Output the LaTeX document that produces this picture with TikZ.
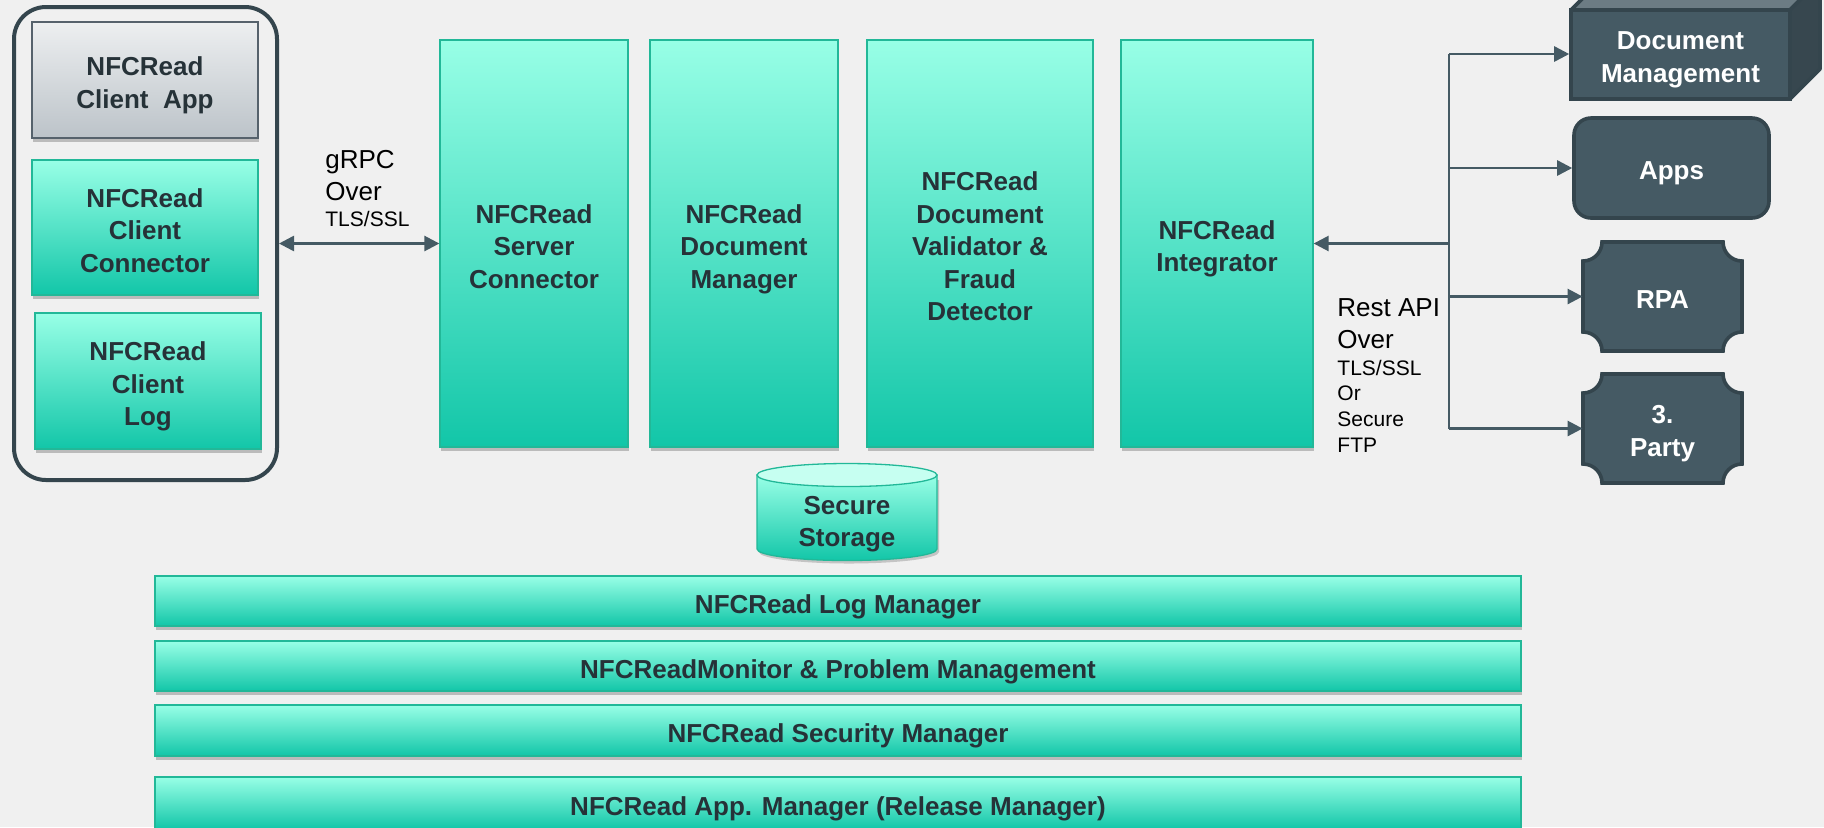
\documentclass[tikz,border=0pt]{standalone}
\usepackage{fontspec}
\setmainfont{Liberation Sans}
\usetikzlibrary{arrows.meta,shadows,calc}
\definecolor{bg}{HTML}{F0F0F0}
\definecolor{tealtop}{HTML}{98FFE6}
\definecolor{tealbot}{HTML}{12C6A8}
\definecolor{tealedge}{HTML}{22B898}
\definecolor{graytop}{HTML}{EDEFF0}
\definecolor{graybot}{HTML}{BCC3C9}
\definecolor{grayedge}{HTML}{56626C}
\definecolor{darkfill}{HTML}{455A64}
\definecolor{darkedge}{HTML}{34454D}
\definecolor{cubetop}{HTML}{6C7C84}
\definecolor{cubeside}{HTML}{37474F}
\definecolor{txt}{HTML}{263238}
\definecolor{linec}{HTML}{455A64}
\definecolor{storetop}{HTML}{C6FFF1}
\newcommand\boxfont{\bfseries\fontsize{13}{16.25}\selectfont}
\newcommand\plaquepath[4]{%
  ({#1+19},#2) -- ({#3-19},#2) .. controls ({#3-19},{#2+10.5}) and ({#3-10.5},{#2+19}) .. (#3,{#2+19})
  -- (#3,{#4-19}) .. controls ({#3-10.5},{#4-19}) and ({#3-19},{#4-10.5}) .. ({#3-19},#4)
  -- ({#1+19},#4) .. controls ({#1+19},{#4-10.5}) and ({#1+10.5},{#4-19}) .. (#1,{#4-19})
  -- (#1,{#2+19}) .. controls ({#1+10.5},{#2+19}) and ({#1+19},{#2+10.5}) .. cycle}
\tikzset{
  atbox/.style n args={4}{inner sep=0pt, minimum width={(#3-#1)*0.5pt}, minimum height={(#4-#2)*0.5pt},
    at={({(#1+#3)/2},{(#2+#4)/2})}},
  tealbox/.style={draw=tealedge, line width=0.65pt, top color=tealtop, bottom color=tealbot,
    drop shadow={shadow xshift=0.6pt, shadow yshift=-1.8pt, opacity=0.22, fill=black}},
  graybox/.style={draw=grayedge, line width=0.8pt, top color=graytop, bottom color=graybot,
    drop shadow={shadow xshift=0.6pt, shadow yshift=-1.8pt, opacity=0.22, fill=black}},
  darkshape/.style={fill=darkfill, draw=darkedge, line width=1.8pt},
  boxtxt/.style={inner sep=0pt, font=\boxfont, text=txt, align=center, text depth=0pt, yshift=-1.3pt},
  whitetxt/.style={boxtxt, text=white},
  conn/.style={draw=linec, line width=1.3pt},
  arr/.style={conn, -{Triangle[length=7.5pt,width=7.5pt]}},
  darr/.style={conn, {Triangle[length=7.5pt,width=7.5pt]}-{Triangle[length=7.5pt,width=7.5pt]}},
  lbl/.style={inner sep=0pt, anchor=north west, align=left, text=black, font=\fontsize{13}{16}\selectfont}
}
% #1 style, #2-#5 box corners (px), #6 name, #7 text
\newcommand\tbox[7]{%
  \node[#1, atbox={#2}{#3}{#4}{#5}] (#6) {};
  \node[boxtxt] (#6t) at (#6.center) {#7};}
\begin{document}
\begin{tikzpicture}[x=0.5pt,y=-0.5pt]
\useasboundingbox (0,0) rectangle (1824,827);
\fill[bg] (0,0) rectangle (1824,827);

% client group
\node[draw=darkedge, line width=2pt, rounded corners=16pt, atbox={14}{7}{277}{480}] (client) {};
\tbox{graybox}{32}{22}{258}{138}{capp}{NFCRead\\Client~~App}
\tbox{tealbox}{32}{160}{258}{295}{ccon}{NFCRead\\Client\\Connector}
\tbox{tealbox}{35}{313}{261}{449}{clog}{NFCRead\\Client\\Log}

% server boxes
\tbox{tealbox}{440}{40}{628}{447}{srv}{NFCRead\\Server\\Connector}
\tbox{tealbox}{650}{40}{838}{447}{dm}{NFCRead\\Document\\Manager}
\tbox{tealbox}{867}{40}{1093}{447}{val}{NFCRead\\Document\\Validator \&\\Fraud\\Detector}
\tbox{tealbox}{1121}{40}{1313}{447}{integ}{NFCRead\\Integrator}

% gRPC
\draw[darr] (client.east) -- (srv.west);
\node[lbl] (grpc) at (325,150) {gRPC\\Over\\[-3pt]{\fontsize{10.5}{13}\selectfont TLS/SSL}};

% secure storage
\fill[black, opacity=0.18] (759,480) -- (759,552) arc[start angle=180, end angle=0, x radius=90, y radius=11.5] -- (939,480) -- cycle;
\shade[top color=tealtop, bottom color=tealbot, draw=tealedge, line width=0.65pt]
  (757,475) -- (757,549) arc[start angle=180, end angle=0, x radius=90, y radius=11.5] -- (937,475) -- cycle;
\filldraw[fill=storetop, draw=tealedge, line width=0.65pt] (847,475) ellipse [x radius=90, y radius=11.5];
\node[boxtxt] (store) at (847,519) {Secure\\Storage};

% bars
\tbox{tealbox}{155}{576}{1521}{626}{b1}{NFCRead Log Manager}
\tbox{tealbox}{155}{641}{1521}{691}{b2}{NFCReadMonitor \& Problem Management}
\tbox{tealbox}{155}{705}{1521}{756}{b3}{NFCRead Security Manager}
\tbox{tealbox}{155}{777}{1521}{829}{b4}{NFCRead App. Manager (Release Manager)}

% right side shapes
\fill[cubetop, draw=darkedge, line width=1.8pt, line join=round] (1571,10) -- (1601,-20) -- (1820,-20) -- (1790,10) -- cycle;
\fill[cubeside, draw=darkedge, line width=1.8pt, line join=round] (1790,10) -- (1820,-20) -- (1820,69) -- (1790,99) -- cycle;
\node[darkshape, atbox={1571}{10}{1790}{99}] (doc) {};
\node[whitetxt] (doct) at (doc.center) {Document\\Management};

\node[darkshape, rounded corners=8.5pt, atbox={1574}{118}{1769}{218}] (apps) {};
\node[whitetxt] (appst) at (apps.center) {Apps};

\draw[darkshape] \plaquepath{1583}{242}{1742}{351};
\node[atbox={1583}{242}{1742}{351}] (rpa) {};
\node[whitetxt] (rpat) at (rpa.center) {RPA};
\draw[darkshape] \plaquepath{1583}{374}{1742}{483};
\node[atbox={1583}{374}{1742}{483}] (party) {};
\node[whitetxt] (partyt) at (party.center) {3.\\Party};

% rest api connectors
\coordinate (tTop) at (1449,54);
\coordinate (tApps) at (1449,168);
\coordinate (tMid) at (1449,243.5);
\coordinate (tRPA) at (1449,296.5);
\coordinate (tBot) at (1449,428.5);
\draw[conn] (tTop) -- (tBot);
\draw[arr] (tTop) -- (tTop -| doc.west);
\draw[arr] (tApps) -- (tApps -| apps.west);
\draw[arr] (tRPA) -- (tRPA -| rpa.west);
\draw[arr] (tBot) -- (tBot -| party.west);
\draw[arr] (tMid) -- (integ.east);

\node[lbl] (rest) at (1337,298) {Rest API\\Over\\[-2.5pt]{\fontsize{10.5}{13}\selectfont TLS/SSL}\\[-3.2pt]{\fontsize{10.5}{13}\selectfont Or}\\[-3.2pt]{\fontsize{10.5}{13}\selectfont Secure}\\[-3.2pt]{\fontsize{10.5}{13}\selectfont FTP}};
\end{tikzpicture}
\end{document}
